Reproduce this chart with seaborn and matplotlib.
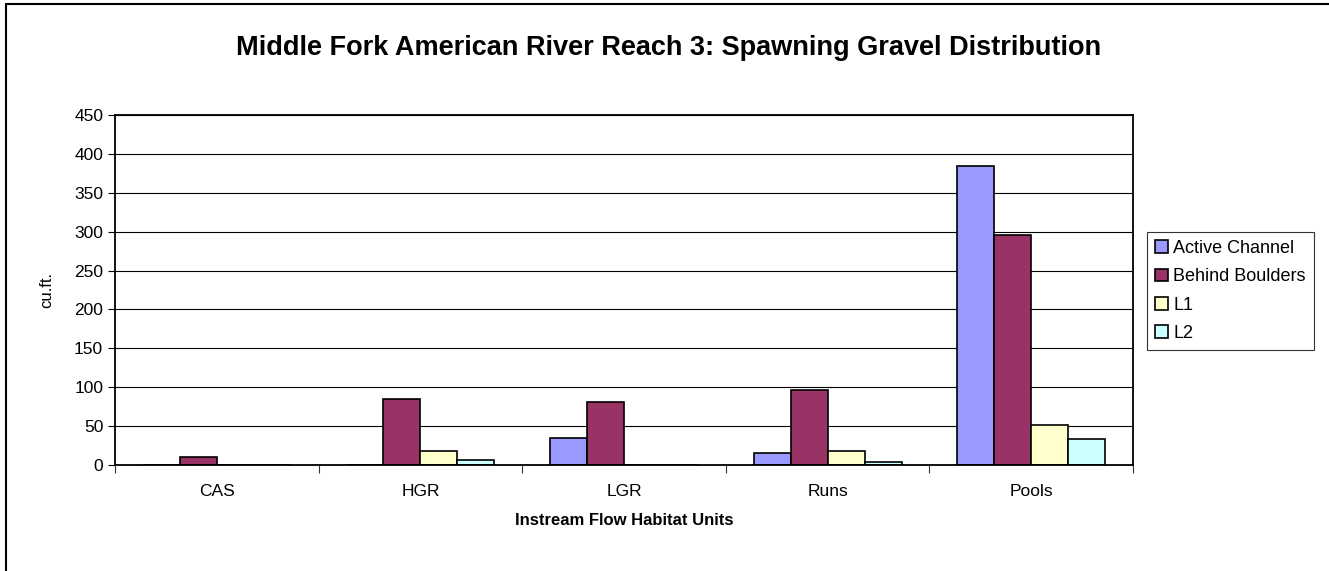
import matplotlib
matplotlib.use('Agg')
import matplotlib.pyplot as plt
from matplotlib.lines import Line2D
from matplotlib.ticker import FixedLocator
import pandas as pd
import seaborn as sns

# data
habitat_units = ['CAS', 'HGR', 'LGR', 'Runs', 'Pools']
active_channel = [0, 0, 35, 15, 385]
behind_boulders = [10, 85, 81, 96, 296]
l1 = [0, 18, 0, 18, 52]
l2 = [0, 6, 0, 4, 33]

series_names = ['Active Channel', 'Behind Boulders', 'L1', 'L2']
series_colors = ['#9999FF', '#993366', '#FFFFCC', '#CCFFFF']

rows = []
for name, vals in zip(series_names, [active_channel, behind_boulders, l1, l2]):
    for unit, v in zip(habitat_units, vals):
        rows.append({'unit': unit, 'series': name, 'value': v})
df = pd.DataFrame(rows)

sns.set_theme(style='white')
plt.rcParams['font.family'] = ['Liberation Sans', 'DejaVu Sans']
plt.rcParams['text.color'] = 'black'
plt.rcParams['axes.labelcolor'] = 'black'

fig = plt.figure(figsize=(13.29, 5.71), dpi=100)
ax = fig.add_axes([115 / 1329, 1 - 465 / 571, (1133 - 115) / 1329, 350 / 571])

sns.barplot(data=df, x='unit', y='value', hue='series', order=habitat_units,
            hue_order=series_names, palette=series_colors, width=0.727, gap=0,
            edgecolor='black', linewidth=1.2, saturation=1, ax=ax, legend=True)

ax.set_ylim(0, 450)
ax.set_xlim(-0.5, 4.5)
ax.set_yticks(range(0, 451, 50))
ax.yaxis.grid(True, color='black', linewidth=0.8)
ax.set_axisbelow(True)
for s in ax.spines.values():
    s.set_visible(True)
    s.set_color('black')
    s.set_linewidth(1.3)

# category separators as tick marks, labels centred
ax.xaxis.set_minor_locator(FixedLocator([-0.5, 0.5, 1.5, 2.5, 3.5, 4.5]))
ax.tick_params(axis='x', which='major', length=0, labelsize=12.5, pad=14, colors='black')
ax.tick_params(axis='x', which='minor', bottom=True, length=6, width=0.8, color='#333333')
ax.tick_params(axis='y', left=True, length=5, width=0.8, labelsize=12.5, colors='black')

ax.set_xlabel('Instream Flow Habitat Units', fontsize=12, fontweight='bold', labelpad=10)
ax.set_ylabel('cu.ft.', fontsize=12, labelpad=14)

fig.suptitle('Middle Fork American River Reach 3: Spawning Gravel Distribution',
             fontsize=19.5, fontweight='bold', x=(233 + 1105) / 2 / 1329, y=1 - 48 / 571,
             va='center', color='black')

handles, labels = ax.get_legend_handles_labels()
ax.legend_.remove()
leg = fig.legend(handles, labels, loc='upper left',
                 bbox_to_anchor=(1147 / 1329, 1 - 232 / 571), fontsize=13,
                 frameon=True, fancybox=False, edgecolor='black', handlelength=0.7,
                 handleheight=0.7, handletextpad=0.3, labelspacing=0.62,
                 borderpad=0.45, borderaxespad=0)
leg.get_frame().set_linewidth(0.8)

# outer chart border (left and top edges visible)
fig.add_artist(Line2D([6 / 1329, 6 / 1329], [0, 1 - 4 / 571], transform=fig.transFigure,
                      color='black', linewidth=1.5))
fig.add_artist(Line2D([6 / 1329, 1], [1 - 4 / 571, 1 - 4 / 571], transform=fig.transFigure,
                      color='black', linewidth=1.5))

fig.savefig('out.png', dpi=100, facecolor='white')
